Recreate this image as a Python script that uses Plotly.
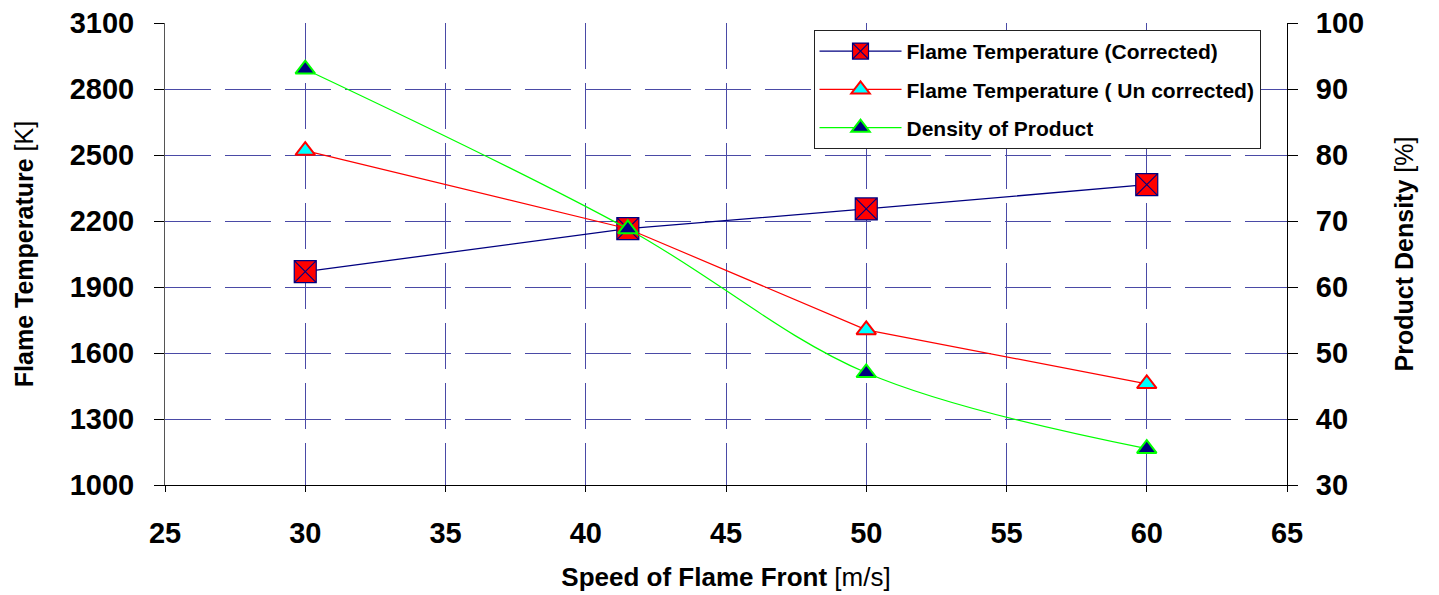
import plotly.graph_objects as go

speed = [30, 41.5, 50, 60]
temp_corrected = [1970, 2165, 2255, 2365]
temp_uncorrected = [2520, 2165, 1705, 1460]
product_density = [93, 68.8, 47, 35.5]

GRID = "#4a4aa6"
FONT = "Liberation Sans, Arial, sans-serif"

fig = go.Figure()
fig.add_trace(go.Scatter(
    x=speed, y=temp_corrected, name="Flame Temperature (Corrected)",
    mode="lines+markers", legendgroup="a",
    line=dict(color="#000080", width=1.3),
    marker=dict(symbol="square-x", size=22, color="#ff0000",
                line=dict(color="#000080", width=1.2))))
fig.add_trace(go.Scatter(
    x=speed, y=temp_uncorrected, name="Flame Temperature ( Un corrected)",
    mode="lines+markers", legendgroup="b",
    line=dict(color="#ff0000", width=1.2),
    marker=dict(symbol="triangle-up", size=17, color="#00ffff",
                line=dict(color="#ff0000", width=2))))
fig.add_trace(go.Scatter(
    x=speed, y=product_density, name="Density of Product", yaxis="y2",
    mode="lines+markers", legendgroup="c",
    line=dict(color="#00ff00", width=1.2, shape="spline"),
    marker=dict(symbol="triangle-up", size=17, color="#000080",
                line=dict(color="#00ff00", width=2))))

# page adds an 8px body margin, so margins are offset to land the plot area
fig.update_layout(
    width=1439, height=595,
    margin=dict(l=157, r=160, t=15, b=118),
    paper_bgcolor="white", plot_bgcolor="white",
    font=dict(family=FONT, color="black"),
    showlegend=True,
    legend=dict(x=0.578, y=0.985, xanchor="left", yanchor="top",
                bgcolor="white", bordercolor="#222222", borderwidth=1,
                font=dict(size=21, weight="bold"), itemwidth=82,
                tracegroupgap=8, traceorder="grouped"),
    xaxis=dict(range=[25, 65], tick0=25, dtick=5, showgrid=True, gridcolor=GRID,
               griddash="46px,14px", gridwidth=1, zeroline=False,
               showline=True, linecolor="black", linewidth=1,
               ticks="outside", ticklen=6, tickcolor="black", automargin=False,
               tickfont=dict(size=29, weight="bold"), ticklabelstandoff=16,
               ticklabeloverflow="allow",
               title=dict(text="<b>Speed of Flame Front</b> [m/s]",
                          font=dict(size=26), standoff=20)),
    yaxis=dict(range=[1000, 3100], tick0=1000, dtick=300, showgrid=True, gridcolor=GRID,
               griddash="46px,14px", gridwidth=1, zeroline=False,
               showline=True, linecolor="#555555", linewidth=1,
               ticks="outside", ticklen=10, tickcolor="black", automargin=False,
               tickfont=dict(size=29, weight="bold"), ticklabelstandoff=14,
               ticklabeloverflow="allow",
               title=dict(text="<b>Flame Temperature</b> [K]",
                          font=dict(size=25), standoff=28)),
    yaxis2=dict(range=[30, 100], tick0=30, dtick=10, overlaying="y", side="right",
                showgrid=False, zeroline=False, automargin=False,
                showline=True, linecolor="black", linewidth=1,
                ticks="outside", ticklen=10, tickcolor="black",
                tickfont=dict(size=29, weight="bold"), ticklabelstandoff=12,
                ticklabeloverflow="allow",
                title=dict(text="<b>Product Density</b> [%]",
                           font=dict(size=25), standoff=32)),
)

fig.write_html("out.html")
